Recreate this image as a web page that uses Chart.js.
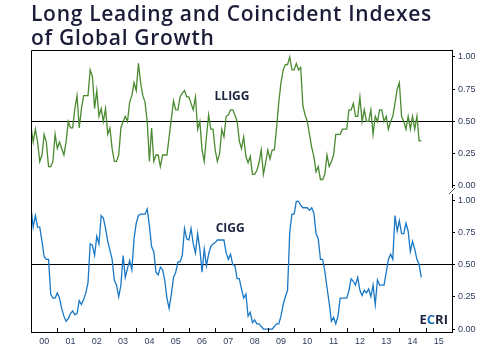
<!DOCTYPE html>
<html>
<head>
<meta charset="utf-8">
<script src="https://cdn.jsdelivr.net/npm/chart.js@4.4.1/dist/chart.umd.min.js"></script>
<style>
  html, body { margin: 0; padding: 0; background: #fff; }
  #wrap { position: relative; width: 495px; height: 350px; }
  #title {
    position: absolute; left: 31px; top: 1px;
    font-family: 'Open Sans', sans-serif; font-size: 21px; font-weight: 600;
    line-height: 24px; letter-spacing: 0.7px; color: #1b1d38;
  }
</style>
</head>
<body>
<div id="wrap">
  <canvas id="chart"></canvas>
  <div id="title">Long Leading and Coincident Indexes<br>of Global Growth</div>
</div>
<script>
// monthly readings, Jan 2000 onwards
const startYear = 2000;
const yearLabels = ['00', '01', '02', '03', '04', '05', '06', '07', '08', '09', '10', '11', '12', '13', '14', '15'];
const yTicks = [0, 0.25, 0.5, 0.75, 1];

const lliggValues = [
  0.46, 0.34, 0.44, 0.34, 0.19, 0.24, 0.40, 0.34, 0.15, 0.15, 0.19, 0.40,
  0.29, 0.34, 0.29, 0.24, 0.34, 0.50, 0.45, 0.45, 0.60, 0.70, 0.45, 0.60,
  0.70, 0.70, 0.70, 0.90, 0.85, 0.60, 0.74, 0.54, 0.60, 0.50, 0.60, 0.40,
  0.45, 0.29, 0.19, 0.19, 0.24, 0.45, 0.50, 0.54, 0.50, 0.65, 0.70, 0.80,
  0.74, 0.95, 0.80, 0.70, 0.65, 0.50, 0.19, 0.45, 0.19, 0.24, 0.24, 0.15,
  0.24, 0.24, 0.24, 0.38, 0.52, 0.66, 0.59, 0.59, 0.69, 0.72, 0.74, 0.69,
  0.69, 0.64, 0.59, 0.69, 0.44, 0.50, 0.28, 0.19, 0.38, 0.55, 0.44, 0.44,
  0.28, 0.19, 0.25, 0.44, 0.38, 0.54, 0.55, 0.59, 0.59, 0.55, 0.50, 0.35,
  0.29, 0.38, 0.23, 0.18, 0.23, 0.09, 0.09, 0.12, 0.18, 0.28, 0.09, 0.18,
  0.28, 0.21, 0.28, 0.28, 0.45, 0.65, 0.80, 0.90, 0.94, 0.94, 1.00, 0.90,
  0.90, 0.95, 0.90, 0.92, 0.62, 0.55, 0.50, 0.40, 0.30, 0.23, 0.11, 0.15,
  0.05, 0.05, 0.09, 0.24, 0.15, 0.19, 0.24, 0.40, 0.40, 0.40, 0.44, 0.44,
  0.44, 0.59, 0.59, 0.64, 0.54, 0.54, 0.69, 0.50, 0.59, 0.50, 0.50, 0.59,
  0.40, 0.54, 0.50, 0.59, 0.59, 0.50, 0.54, 0.44, 0.50, 0.54, 0.64, 0.75,
  0.80, 0.54, 0.50, 0.44, 0.54, 0.44, 0.54, 0.44, 0.54, 0.35, 0.35
];

const ciggValues = [
  0.94, 0.79, 0.88, 0.79, 0.79, 0.68, 0.56, 0.54, 0.54, 0.27, 0.24, 0.24,
  0.28, 0.24, 0.16, 0.10, 0.06, 0.08, 0.12, 0.14, 0.11, 0.12, 0.22, 0.19,
  0.23, 0.28, 0.36, 0.66, 0.65, 0.57, 0.72, 0.66, 0.88, 0.86, 0.78, 0.68,
  0.61, 0.54, 0.38, 0.34, 0.25, 0.34, 0.57, 0.40, 0.47, 0.53, 0.46, 0.70,
  0.82, 0.88, 0.89, 0.89, 0.89, 0.93, 0.80, 0.64, 0.60, 0.44, 0.42, 0.48,
  0.46, 0.38, 0.24, 0.16, 0.27, 0.40, 0.44, 0.52, 0.52, 0.57, 0.78, 0.70,
  0.69, 0.78, 0.66, 0.59, 0.74, 0.62, 0.44, 0.62, 0.49, 0.58, 0.64, 0.66,
  0.67, 0.69, 0.69, 0.69, 0.69, 0.59, 0.54, 0.58, 0.50, 0.49, 0.39, 0.39,
  0.31, 0.24, 0.27, 0.10, 0.13, 0.05, 0.07, 0.04, 0.04, 0.02, 0.00, 0.00,
  0.00, 0.00, 0.00, 0.02, 0.04, 0.04, 0.10, 0.19, 0.25, 0.30, 0.75, 0.89,
  0.89, 0.99, 0.99, 0.96, 0.94, 0.94, 0.94, 0.92, 0.94, 0.90, 0.74, 0.70,
  0.54, 0.54, 0.45, 0.32, 0.20, 0.06, 0.09, 0.04, 0.10, 0.24, 0.24, 0.24,
  0.24, 0.30, 0.39, 0.37, 0.34, 0.40, 0.30, 0.26, 0.30, 0.28, 0.31, 0.25,
  0.34, 0.19, 0.38, 0.34, 0.34, 0.34, 0.44, 0.54, 0.58, 0.54, 0.88, 0.76,
  0.84, 0.74, 0.74, 0.82, 0.76, 0.60, 0.68, 0.62, 0.54, 0.50, 0.40
];

const navy = '#1e2440';
const tickFont = { family: 'Liberation Sans', size: 9 };
const tickColor = '#2d3b5c';

const toPoints = (vals) => vals.map((v, i) => ({ x: startYear + i / 12, y: v }));

// frame, year ticks, axis break and text labels
const decorations = {
  id: 'decorations',
  afterDraw(chart) {
    const { ctx, chartArea: a, scales } = chart;
    ctx.save();
    ctx.strokeStyle = '#000';
    ctx.lineWidth = 1;
    ctx.beginPath();
    ctx.moveTo(a.left + 0.5, a.bottom);
    ctx.lineTo(a.left + 0.5, a.top + 0.5);
    ctx.lineTo(a.right, a.top + 0.5);
    for (let yr = startYear + 1; yr <= startYear + 16; yr++) {
      const px = Math.round(scales.x.getPixelForValue(yr)) + 0.5;
      ctx.moveTo(px, a.bottom);
      ctx.lineTo(px, a.bottom - 4);
    }
    ctx.stroke();

    // break on the right axis between the panels
    const breakY = scales.y.bottom;
    ctx.fillStyle = '#fff';
    ctx.fillRect(a.right - 3, breakY - 3, 7, 6);
    ctx.beginPath();
    ctx.moveTo(a.right - 3, breakY + 3);
    ctx.lineTo(a.right + 3, breakY - 3);
    ctx.strokeStyle = '#555';
    ctx.stroke();

    ctx.fillStyle = navy;
    ctx.font = 'bold 12px "Open Sans"';
    ctx.textAlign = 'center';
    ctx.textBaseline = 'middle';
    ctx.fillText('LLIGG', scales.x.getPixelForValue(2007.64), scales.y.getPixelForValue(0.69));
    ctx.fillText('CIGG', scales.x.getPixelForValue(2007.57), scales.y2.getPixelForValue(0.78));

    ctx.font = 'bold 13px "Open Sans"';
    ctx.textAlign = 'left';
    const parts = [['E', navy], ['C', '#1f6fb5'], ['RI', navy]];
    let x = a.right - 4 - parts.reduce((s, p) => s + ctx.measureText(p[0]).width, 0);
    const ty = scales.y2.getPixelForValue(0.07);
    parts.forEach(([t, c]) => {
      ctx.fillStyle = c;
      ctx.fillText(t, x, ty);
      x += ctx.measureText(t).width;
    });
    ctx.restore();
  }
};

const yAxis = (min, max) => ({
  type: 'linear',
  position: 'right',
  stack: 'panels',
  stackWeight: 1,
  min: min,
  max: max,
  afterBuildTicks: (s) => { s.ticks = yTicks.map(v => ({ value: v })); },
  afterFit: (s) => { s.width = 43; },
  border: { display: true, color: '#000', width: 1 },
  grid: {
    color: (c) => (c.tick && c.tick.value === 0.5 ? '#000' : 'rgba(0,0,0,0)'),
    tickColor: '#000',
    tickLength: 3,
    lineWidth: 1
  },
  ticks: {
    padding: 3,
    font: tickFont,
    color: tickColor,
    callback: (v) => Number(v).toFixed(2)
  }
});

new Chart(document.getElementById('chart'), {
  type: 'line',
  data: {
    datasets: [
      {
        label: 'LLIGG',
        data: toPoints(lliggValues),
        yAxisID: 'y',
        borderColor: '#4a8a30',
        borderWidth: 1.3,
        pointRadius: 0,
        tension: 0
      },
      {
        label: 'CIGG',
        data: toPoints(ciggValues),
        yAxisID: 'y2',
        borderColor: '#1878c6',
        borderWidth: 1.3,
        pointRadius: 0,
        tension: 0
      }
    ]
  },
  options: {
    responsive: true,
    maintainAspectRatio: false,
    animation: false,
    layout: { padding: { left: 31, right: 0, top: 50, bottom: 0 } },
    plugins: {
      legend: { display: false },
      tooltip: { enabled: false }
    },
    scales: {
      x: {
        type: 'linear',
        position: 'bottom',
        min: startYear,
        max: startYear + 16,
        afterBuildTicks: (s) => { s.ticks = yearLabels.map((l, i) => ({ value: startYear + i + 0.5 })); },
        afterFit: (s) => { s.height = 18; },
        border: { display: true, color: '#000', width: 1 },
        grid: { display: false, drawTicks: false, tickLength: 0 },
        ticks: {
          autoSkip: false,
          maxRotation: 0,
          padding: 4,
          font: tickFont,
          color: tickColor,
          callback: (v, i) => yearLabels[i]
        }
      },
      y: yAxis(-0.039, 1.054),
      y2: yAxis(-0.023, 1.07)
    }
  },
  plugins: [decorations]
});
</script>
</body>
</html>
